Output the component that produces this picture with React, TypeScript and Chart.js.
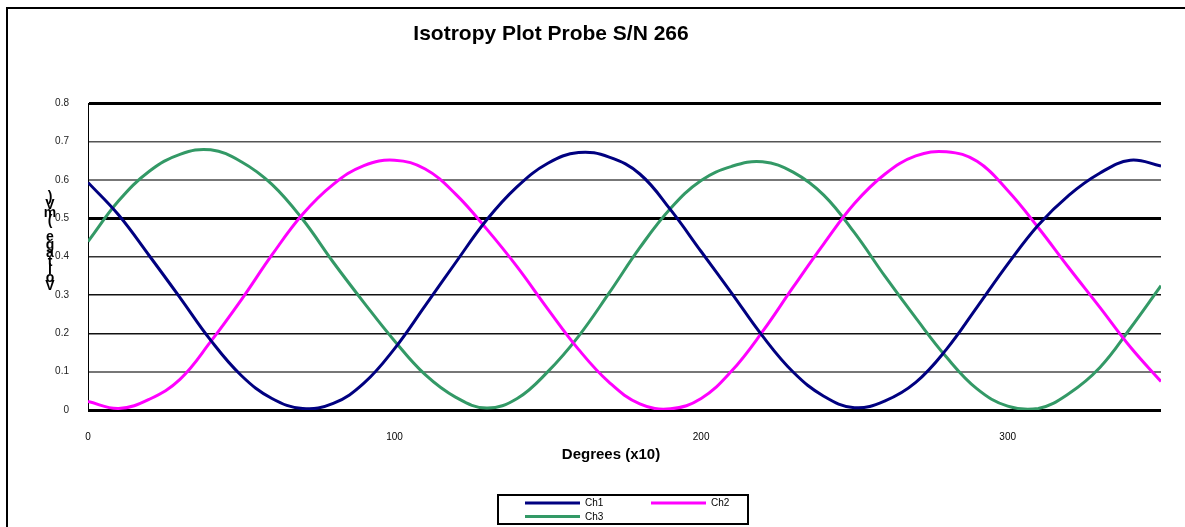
import React, { useEffect, useRef } from "react";
import { Chart, registerables } from "chart.js";

Chart.register(...registerables);

const chartTitle = "Isotropy Plot Probe S/N 266";
const xAxisTitle = "Degrees (x10)";
const yAxisTitle = "Voltage (mV)";

const xValues = [
  0, 10, 20, 30, 40, 50, 60, 70, 80, 90, 100, 110, 120, 130, 140, 150, 160, 170,
  180, 190, 200, 210, 220, 230, 240, 250, 260, 270, 280, 290, 300, 310, 320, 330,
  340, 350,
];

const ch1 = [
  0.593, 0.508, 0.402, 0.293, 0.182, 0.09, 0.03, 0.004, 0.017, 0.07, 0.16, 0.272,
  0.385, 0.495, 0.582, 0.643, 0.671, 0.659, 0.615, 0.522, 0.413, 0.304, 0.193,
  0.099, 0.036, 0.006, 0.024, 0.072, 0.158, 0.268, 0.38, 0.482, 0.56, 0.617, 0.651,
  0.636,
];

const ch2 = [
  0.022, 0.004, 0.028, 0.08, 0.178, 0.287, 0.404, 0.51, 0.588, 0.637, 0.651,
  0.628, 0.562, 0.472, 0.373, 0.263, 0.158, 0.072, 0.016, 0.003, 0.03, 0.102, 0.204,
  0.32, 0.433, 0.538, 0.615, 0.662, 0.673, 0.648, 0.572, 0.475, 0.37, 0.268, 0.164,
  0.074,
];

const ch3 = [
  0.439, 0.545, 0.622, 0.666, 0.678, 0.647, 0.588, 0.497, 0.385, 0.28, 0.18, 0.092,
  0.033, 0.005, 0.03, 0.1, 0.192, 0.305, 0.423, 0.525, 0.598, 0.635, 0.647, 0.62,
  0.56, 0.462, 0.348, 0.24, 0.138, 0.055, 0.01, 0.004, 0.043, 0.11, 0.213, 0.324,
];

const seriesNames = ["Ch1", "Ch2", "Ch3"];
const seriesColors = ["#000080", "#FF00FF", "#339966"];
const xTickValues = [0, 100, 200, 300];
const yTickValues = [0, 0.1, 0.2, 0.3, 0.4, 0.5, 0.6, 0.7, 0.8];

const FONT = "'Liberation Sans', Arial, Helvetica, sans-serif";

const gridStyles: Record<string, { c: string; w: number }> = {
  "0": { c: "#000000", w: 3 },
  "0.1": { c: "#777777", w: 2 },
  "0.2": { c: "#111111", w: 1.5 },
  "0.3": { c: "#111111", w: 1.5 },
  "0.4": { c: "#333333", w: 1.5 },
  "0.5": { c: "#000000", w: 3 },
  "0.6": { c: "#777777", w: 2 },
  "0.7": { c: "#555555", w: 1.5 },
  "0.8": { c: "#000000", w: 3 },
};

const fmt = (v: number) => String(Number(v.toFixed(1)));

const decorPlugin = {
  id: "decor",
  afterDraw(chart: any) {
    const ctx = chart.ctx as CanvasRenderingContext2D;
    ctx.save();
    // outer frame
    ctx.strokeStyle = "#000";
    ctx.lineWidth = 2;
    ctx.beginPath();
    ctx.moveTo(7, 527);
    ctx.lineTo(7, 8);
    ctx.lineTo(1185, 8);
    ctx.stroke();

    // title
    ctx.fillStyle = "#000";
    ctx.textAlign = "center";
    ctx.textBaseline = "middle";
    ctx.font = `bold 21px ${FONT}`;
    ctx.fillText(chartTitle, 551, 34);

    // x axis title
    ctx.font = `bold 15px ${FONT}`;
    ctx.fillText(xAxisTitle, 611, 455);

    // y axis title: stacked characters, bottom to top
    ctx.font = `bold 14px ${FONT}`;
    const chars = Array.from(yAxisTitle);
    chars.forEach((ch, i) => {
      ctx.fillText(ch, 50, 286 - i * 8.1);
    });

    // legend
    const bx = 498, by = 495, bw = 250, bh = 29;
    ctx.lineWidth = 2;
    ctx.strokeStyle = "#000";
    ctx.strokeRect(bx, by, bw, bh);
    const items = chart.data.datasets.map((d: any) => ({
      label: d.label,
      color: d.borderColor,
    }));
    const pos = [
      { x: 525, y: 503 },
      { x: 651, y: 503 },
      { x: 525, y: 516.5 },
    ];
    ctx.font = `10px ${FONT}`;
    ctx.textAlign = "left";
    items.forEach((it: any, i: number) => {
      const p = pos[i];
      ctx.strokeStyle = it.color;
      ctx.lineWidth = 3;
      ctx.beginPath();
      ctx.moveTo(p.x, p.y);
      ctx.lineTo(p.x + 55, p.y);
      ctx.stroke();
      ctx.fillStyle = "#000";
      ctx.fillText(it.label, p.x + 60, p.y + 0.5);
    });
    ctx.restore();
  },
};

export default function App() {
  const ref = useRef<HTMLCanvasElement | null>(null);

  useEffect(() => {
    if (!ref.current) return;
    Chart.defaults.font.family = FONT;
    const chart = new Chart(ref.current, {
      type: "line",
      data: {
        datasets: [ch1, ch2, ch3].map((arr, i) => ({
          label: seriesNames[i],
          data: xValues.map((x, j) => ({ x, y: arr[j] })),
          borderColor: seriesColors[i],
          backgroundColor: seriesColors[i],
          borderWidth: 3,
          pointRadius: 0,
          tension: 0.4,
          fill: false,
        })),
      },
      options: {
        animation: false,
        responsive: false,
        devicePixelRatio: 1,
        events: [],
        layout: { padding: { left: 0, top: 103, right: 24, bottom: 62 } },
        plugins: {
          legend: { display: false },
          title: { display: false },
          tooltip: { enabled: false },
        },
        scales: {
          x: {
            type: "linear",
            min: 0,
            max: 350,
            grid: { display: false, drawTicks: false },
            border: { display: false },
            ticks: {
              font: { size: 10 },
              color: "#000",
              padding: 21,
              maxRotation: 0,
              autoSkip: false,
            },
            afterBuildTicks: (s: any) => {
              s.ticks = xTickValues.map((v) => ({ value: v }));
            },
            afterFit: (s: any) => {
              s.height = 55;
            },
          },
          y: {
            type: "linear",
            min: 0,
            max: 0.8,
            grid: {
              drawTicks: false,
              color: (c: any) => (gridStyles[fmt(c.tick.value)] || { c: "#444" }).c,
              lineWidth: (c: any) => (gridStyles[fmt(c.tick.value)] || { w: 1 }).w,
            },
            border: { display: true, color: "#000", width: 1 },
            ticks: {
              font: { size: 10 },
              color: "#222",
              padding: 19,
              callback: (v: any) => fmt(Number(v)),
            },
            afterBuildTicks: (s: any) => {
              s.ticks = yTickValues.map((v) => ({ value: v }));
            },
            afterFit: (s: any) => {
              s.width = 88;
            },
          },
        },
      },
      plugins: [decorPlugin],
    });
    return () => chart.destroy();
  }, []);

  return (
    <div style={{ position: "fixed", left: 0, top: 0, width: 1185, height: 527, background: "#fff" }}>
      <canvas ref={ref} width={1185} height={527} style={{ display: "block" }} />
    </div>
  );
}
